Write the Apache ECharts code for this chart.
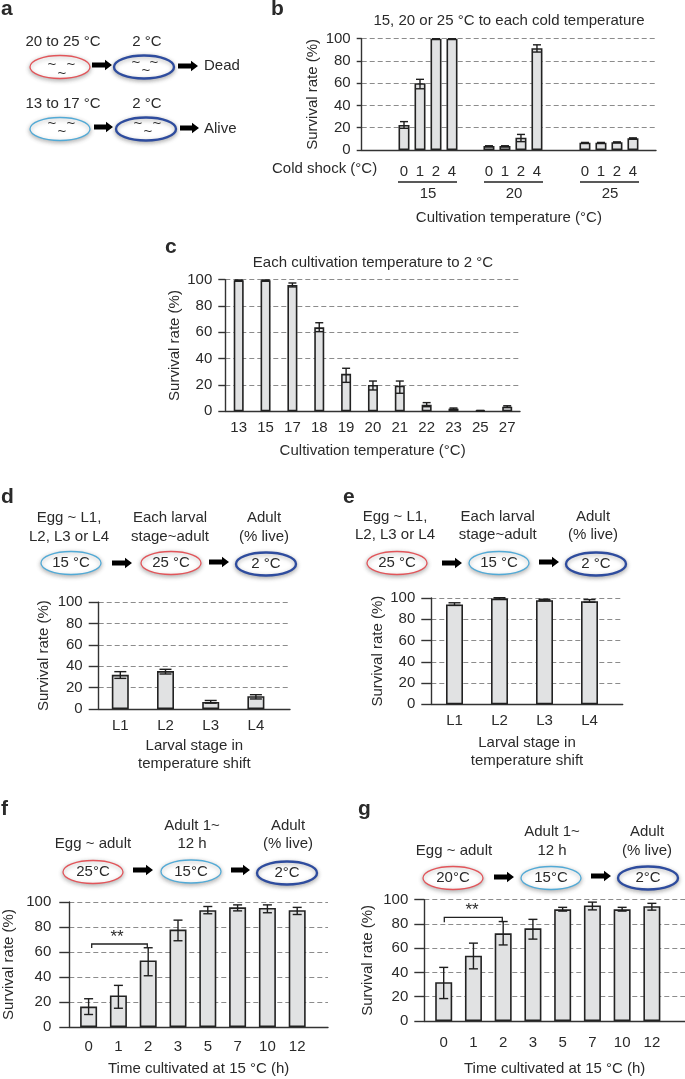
<!DOCTYPE html>
<html>
<head>
<meta charset="utf-8">
<style>html,body{margin:0;padding:0;background:#fff}#c{width:685px;height:1079px}</style>
<script src="https://cdn.jsdelivr.net/npm/echarts@6/dist/echarts.min.js"></script>
</head>
<body>
<div id="c"></div>
<script>
// ---- data ----
const bLabels = ['0','1','2','4','0','1','2','4','0','1','2','4'];
const bSurvival = [22.5,60,100,100,3.5,3.5,11,91.5,6.5,6.5,7,10.5];
const bLow = [19.5,55,100,100,3.2,3.2,7.5,88,6.2,6.2,6.7,10.1];
const bHigh = [25.5,63.5,100,100,3.8,3.8,14,94.5,6.8,6.8,7.3,10.9];

const cLabels = ['13','15','17','18','19','20','21','22','23','25','27'];
const cSurvival = [99.5,99.5,96,63.8,28.5,20,19.5,5,2,0.5,3.5];
const cLow = [99.3,99.3,94.5,60.5,22,16.2,13.7,3.5,1.5,0.3,3];
const cHigh = [99.8,99.8,97.5,67.3,32.7,23,23,6.6,2.5,0.7,4.2];

const stageLabels = ['L1','L2','L3','L4'];
const dSurvival = [32,35.5,6.6,12];
const dLow = [28.7,32.8,5.5,9.4];
const dHigh = [35,37.2,8,13.4];

const eSurvival = [94,99.5,98,97];
const eLow = [93,99,97.3,96];
const eHigh = [95.5,100.3,98.8,98.5];

const hourLabels = ['0','1','2','3','5','7','10','12'];
const fSurvival = [16.3,25.2,53.2,77.9,93.4,95.7,95.2,93.4];
const fLow = [10,15,41,69,90.6,92.9,91.4,90];
const fHigh = [22.6,33.3,63.4,85.5,96.4,97.7,97.7,95.7];

const gSurvival = [32,53.8,72.3,76.4,92.1,95.2,92.1,94.7];
const gLow = [18.5,43,62.7,67.5,90.6,91.6,90.6,91.4];
const gHigh = [44.2,64.2,82,83.8,93.7,98,93.7,97];

// ---- style ----
const FONT = 'Liberation Sans';
const INK = '#2a2a2a';
const RED = '#e2555a', LIGHT = '#52aad6', DARK = '#2e4c9e';
const FS = 15;

const grids = [], xAxes = [], yAxes = [], series = [], gfx = [];

function panel(p){
  const i = grids.length;
  const slots = p.slots || p.labels.map((_, k) => k);
  grids.push({left:p.left, top:p.top, width:p.right-p.left, height:p.bottom-p.top, containLabel:false});
  xAxes.push({
    type:'value', gridIndex:i,
    min:(p.left-p.start)/p.step, max:(p.right-p.start)/p.step,
    name:p.xName||'', nameLocation:'middle', nameGap:p.xGap||40,
    nameTextStyle:{fontFamily:FONT,fontSize:FS,color:INK,lineHeight:18},
    axisLine:{show:true,onZero:false,lineStyle:{color:'#333',width:1.4}},
    axisTick:{show:false}, splitLine:{show:false},
    axisLabel:{
      show:true, customValues:slots, margin:p.labelMargin||9,
      fontFamily:FONT,fontSize:FS,color:INK,
      formatter:v=>{const k=slots.findIndex(s=>Math.abs(s-v)<1e-6);return k<0?'':p.labels[k];}
    }
  });
  yAxes.push({
    type:'value', gridIndex:i, min:0, max:100, interval:20,
    name:'Survival rate (%)', nameLocation:'middle', nameRotate:90, nameGap:p.yGap,
    nameTextStyle:{fontFamily:FONT,fontSize:FS,color:INK},
    axisLine:{show:true,onZero:false,lineStyle:{color:'#333',width:1.4}},
    axisTick:{show:true,length:p.tick,lineStyle:{color:'#333',width:1.4}},
    axisLabel:{margin:p.tick+(p.tickGap||6),fontFamily:FONT,fontSize:FS,color:INK},
    splitLine:{show:true,lineStyle:{type:[5,3],color:'#8c8c8c',width:1.2}}
  });
  series.push({
    type:'bar', xAxisIndex:i, yAxisIndex:i, barWidth:p.barW, clip:false,
    itemStyle:{color:'#e1e2e3',borderColor:'#222',borderWidth:1.6},
    data:p.values.map((v,k)=>[slots[k],v]), silent:true, animation:false
  });
  const cap = p.cap;
  series.push({
    type:'custom', xAxisIndex:i, yAxisIndex:i, clip:false, z:5, silent:true, animation:false,
    encode:{x:0,y:[1,2]},
    data:p.low.map((v,k)=>[slots[k],v,p.high[k]]),
    renderItem:(params,api)=>{
      const a=api.coord([api.value(0),api.value(1)]), b=api.coord([api.value(0),api.value(2)]);
      const s={stroke:'#1e1e1e',lineWidth:1.4,fill:null};
      return {type:'group',children:[
        {type:'line',shape:{x1:a[0],y1:a[1],x2:b[0],y2:b[1]},style:s},
        {type:'line',shape:{x1:a[0]-cap/2,y1:a[1],x2:a[0]+cap/2,y2:a[1]},style:s},
        {type:'line',shape:{x1:a[0]-cap/2,y1:b[1],x2:a[0]+cap/2,y2:b[1]},style:s}
      ]};
    }
  });
}

function t(x,y,str,align,size,weight){
  gfx.push({type:'text',x,y,z:20,silent:true,style:{text:str,fill:INK,fontFamily:FONT,fontSize:size||FS,fontWeight:weight||'normal',align:align||'center',verticalAlign:'middle'}});
}
function ell(cx,cy,color,lw){
  gfx.push({type:'ellipse',z:10,silent:true,shape:{cx,cy,rx:30,ry:11.5},
    style:{fill:'#fff',stroke:color,lineWidth:lw,shadowBlur:4,shadowColor:'rgba(90,90,90,0.45)',shadowOffsetY:1.5}});
}
function arrow(x1,x2,y){
  const h=x2-7;
  gfx.push({type:'polygon',z:10,silent:true,shape:{points:[[x1,y-2.4],[h,y-2.4],[h,y-5.2],[x2,y],[h,y+5.2],[h,y+2.4],[x1,y+2.4]]},style:{fill:'#000'}});
}
function line(x1,y1,x2,y2){
  gfx.push({type:'line',z:10,silent:true,shape:{x1,y1,x2,y2},style:{stroke:'#222',lineWidth:1.3}});
}
function bracket(x1,x2,y,drop){
  gfx.push({type:'polyline',z:10,silent:true,shape:{points:[[x1,y+drop],[x1,y],[x2,y],[x2,y+drop]]},style:{stroke:'#222',lineWidth:1.3,fill:null}});
}

// ---- panel b ----
const bSlots = bLabels.map((_,k)=>[0,5.31,11.31][Math.floor(k/4)]+k%4);
panel({left:361.7,right:656,top:38.7,bottom:150,start:404,step:16,labels:bLabels,slots:bSlots,values:bSurvival,low:bLow,high:bHigh,
  barW:11,cap:8,tick:5,yGap:41,xName:'Cultivation temperature (°C)',xGap:59,labelMargin:14});
// ---- panel c ----
panel({left:225.3,right:520,top:279.7,bottom:411.3,start:238.7,step:26.85,labels:cLabels,values:cSurvival,low:cLow,high:cHigh,
  barW:10,cap:8,tick:7,yGap:43,xName:'Cultivation temperature (°C)',xGap:31,labelMargin:9});
// ---- panel d ----
panel({left:98.7,right:290,top:602.3,bottom:709,start:120.3,step:45.2,labels:stageLabels,values:dSurvival,low:dLow,high:dHigh,
  barW:17,cap:12,tick:10,yGap:47,xName:'Larval stage in\ntemperature shift',xGap:28,labelMargin:9});
// ---- panel e ----
panel({left:431.3,right:622.7,top:598,bottom:704.3,start:454.5,step:45,labels:stageLabels,values:eSurvival,low:eLow,high:eHigh,
  barW:17,cap:12,tick:10,yGap:46,xName:'Larval stage in\ntemperature shift',xGap:30,labelMargin:9});
// ---- panel f ----
panel({left:69.3,right:328,top:902,bottom:1033,start:88.6,step:29.8,labels:hourLabels,values:fSurvival,low:fLow,high:fHigh,
  barW:17,cap:9,tick:10,tickGap:8,yGap:53,xName:'Time cultivated at 15 °C (h)',xGap:33,labelMargin:12});
// ---- panel g ----
panel({left:424.3,right:685,top:899.7,bottom:1031,start:443.7,step:29.74,labels:hourLabels,values:gSurvival,low:gLow,high:gHigh,
  barW:17,cap:9,tick:10,yGap:49,xName:'Time cultivated at 15 °C (h)',xGap:39,labelMargin:14});

// ---- panel letters ----
[['a',1,9],['b',271,9],['c',165,247],['d',1,497],['e',343,497],['f',1,809],['g',358,809]].forEach(l=>t(l[1],l[2],l[0],'left',21,'bold'));

// ---- panel a schematic ----
t(63,42,'20 to 25 °C'); t(147,42,'2 °C');
ell(60,67,RED,1.3); arrow(92,112,65); ell(144,67,DARK,2.4); arrow(178,198,66); t(204,66,'Dead','left');
t(63,104,'13 to 17 °C'); t(147,104,'2 °C');
ell(60,129,LIGHT,1.3); arrow(94,113,127); ell(146,129,DARK,2.4); arrow(180,199,128); t(204,129,'Alive','left');
[[52,65],[71,65],[62,74],[136,63],[154,63],[146,71],[52,124],[71,124],[62,132],[138,124],[157,124],[148,132]].forEach(w=>t(w[0],w[1],'~'));

// ---- panel b extras ----
t(509,21,'15, 20 or 25 °C to each cold temperature');
t(272,169,'Cold shock (°C)','left');
line(398,182,457,182); line(484,182,543,182); line(580,182,639,182);
t(428,194,'15'); t(514,194,'20'); t(610,194,'25');
// ---- panel c extras ----
t(373,263,'Each cultivation temperature to 2 °C');

function flow(ts,es,as){
  ts.forEach(a=>t(a[0],a[1],a[2]));
  es.forEach(a=>{ell(a[0],a[1],a[2],a[2]===DARK?2.4:1.3); t(a[0],a[1],a[3]);});
  as.forEach(a=>arrow(a[0],a[1],a[2]));
}
flow([[69,518,'Egg ~ L1,'],[69,537,'L2, L3 or L4'],[170,518,'Each larval'],[170,537,'stage~adult'],[264,518,'Adult'],[264,537,'(% live)']],
  [[71,563,LIGHT,'15 °C'],[171,563,RED,'25 °C'],[266,564,DARK,'2 °C']],[[112,132,563],[209,229,562]]);
flow([[395,516.7,'Egg ~ L1,'],[395,535,'L2, L3 or L4'],[497.7,516.7,'Each larval'],[497.7,535,'stage~adult'],[593,516.7,'Adult'],[593,535,'(% live)']],
  [[397,563,RED,'25 °C'],[499,563,LIGHT,'15 °C'],[596,564,DARK,'2 °C']],[[442,462,563],[539,559,562]]);
flow([[93,844,'Egg ~ adult'],[192,826,'Adult 1~'],[192,844,'12 h'],[288,826,'Adult'],[288,844,'(% live)']],
  [[93,872,RED,'25°C'],[191,871.5,LIGHT,'15°C'],[287,873,DARK,'2°C']],[[133,153,870],[231,250,870]]);
flow([[454,851,'Egg ~ adult'],[552,832,'Adult 1~'],[552,851,'12 h'],[647,832,'Adult'],[647,851,'(% live)']],
  [[453,878,RED,'20°C'],[551,878,LIGHT,'15°C'],[648,878,DARK,'2°C']],[[494,514,877],[591,611,876]]);

bracket(91.7,147.3,944,4); t(117,937,'**',null,17);
bracket(444.3,502.3,917.3,5); t(472,910,'**',null,17);

const chart = echarts.init(document.getElementById('c'),null,{renderer:'canvas'});
chart.setOption({animation:false,backgroundColor:'#fff',grid:grids,xAxis:xAxes,yAxis:yAxes,series,graphic:{elements:gfx}});
</script>
</body>
</html>
